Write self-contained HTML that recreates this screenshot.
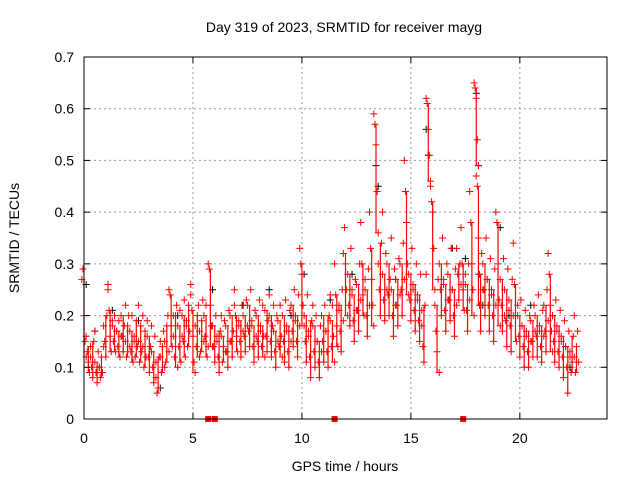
<!DOCTYPE html>
<html><head><meta charset="utf-8"><style>
body{margin:0;background:#fff}
svg text{font-family:"Liberation Sans",sans-serif;font-size:14px;fill:#000}
</style></head><body>
<svg id="c" width="640" height="480">
<text x="344" y="32" text-anchor="middle">Day 319 of 2023, SRMTID for receiver mayg</text>
<text x="345" y="471" text-anchor="middle">GPS time / hours</text>
<text transform="translate(19,238) rotate(-90)" text-anchor="middle">SRMTID / TECUs</text>
<g id="grid"></g>
<g id="black"></g>
<g id="red"></g>
<g id="axes"></g>
</svg>
<script>
const xTicks=[0,5,10,15,20];
const yTicks=[0,0.1,0.2,0.3,0.4,0.5,0.6,0.7];
const yTickLabels=["0","0.1","0.2","0.3","0.4","0.5","0.6","0.7"];
const redTimes=[0,0.2,0.4,0.6,0.8,1,1.2,1.4,1.6,1.8,2,2.2,2.4,2.6,2.8,3,3.2,3.4,3.6,3.8,4,4.2,4.4,4.6,4.8,5,5.2,5.4,5.6,5.8,6,6.2,6.4,6.6,6.8,7,7.2,7.4,7.6,7.8,8,8.2,8.4,8.6,8.8,9,9.2,9.4,9.6,9.8,10,10.2,10.4,10.6,10.8,11,11.2,11.4,11.6,11.8,12,12.2,12.4,12.6,12.8,13,13.2,13.4,13.6,13.8,14,14.2,14.4,14.6,14.8,15,15.2,15.4,15.6,15.8,16,16.2,16.4,16.6,16.8,17,17.2,17.4,17.6,17.8,18,18.1,18.2,18.4,18.6,18.8,19,19.2,19.4,19.6,19.8,20,20.2,20.4,20.6,20.8,21,21.2,21.4,21.6,21.8,22,22.2,22.4,22.6];
const redValues=[[.27,.29,.2,.15,.12],[.16,.13,.11,.09,.14],[.12,.1,.08,.15,.17],[.11,.09,.07,.13,.1],[.1,.08,.12,.09,.14],[.18,.15,.12,.2,.25],[.26,.21,.16,.13,.19],[.18,.15,.2,.13,.17],[.17,.14,.19,.12,.16],[.2,.16,.13,.18,.22],[.15,.12,.18,.2,.14],[.17,.13,.2,.11,.15],[.16,.12,.19,.14,.22],[.15,.11,.18,.13,.2],[.14,.1,.17,.12,.19],[.16,.12,.09,.14,.18],[.13,.1,.07,.16,.11],[.08,.05,.06,.12,.15],[.12,.09,.14,.17,.1],[.15,.11,.18,.2,.13],[.25,.24,.18,.14,.2],[.16,.12,.2,.22,.1],[.18,.14,.21,.11,.16],[.2,.15,.23,.12,.18],[.19,.14,.22,.17,.24],[.26,.21,.16,.11,.09],[.18,.14,.2,.22,.12],[.17,.13,.19,.23,.15],[.2,.16,.22,.12,.14],[.3,.29,.22,.18,.14],[.18,.14,.11,.2,.16],[.15,.12,.09,.17,.2],[.16,.11,.14,.19,.13],[.18,.13,.1,.21,.15],[.2,.15,.12,.17,.22],[.25,.2,.16,.13,.18],[.19,.15,.12,.22,.17],[.2,.16,.13,.23,.18],[.22,.17,.14,.25,.19],[.18,.14,.11,.21,.16],[.2,.15,.12,.23,.17],[.18,.14,.22,.16,.12],[.21,.16,.13,.19,.24],[.2,.15,.12,.18,.22],[.17,.13,.1,.2,.15],[.19,.14,.22,.16,.12],[.2,.15,.11,.23,.17],[.18,.13,.1,.21,.15],[.22,.17,.14,.25,.19],[.2,.15,.12,.24,.18],[.33,.3,.28,.22,.18],[.2,.15,.11,.24,.17],[.16,.12,.08,.19,.22],[.18,.13,.1,.2,.15],[.15,.11,.08,.18,.13],[.2,.15,.11,.22,.17],[.17,.13,.1,.2,.24],[.19,.14,.22,.16,.11],[.3,.24,.18,.14,.21],[.22,.17,.13,.25,.19],[.32,.37,.3,.25,.2],[.28,.22,.18,.33,.25],[.24,.19,.15,.27,.21],[.26,.21,.17,.3,.23],[.38,.3,.24,.2,.27],[.25,.2,.16,.29,.22],[.4,.33,.27,.22,.18],[.59,.57,.53,.44,.36],[.3,.25,.2,.34,.4],[.28,.23,.19,.32,.25],[.3,.24,.2,.27,.35],[.25,.2,.16,.29,.22],[.27,.22,.18,.31,.24],[.3,.25,.2,.34,.27],[.5,.44,.38,.3,.24],[.28,.23,.19,.33,.25],[.26,.21,.17,.3,.23],[.24,.19,.15,.28,.21],[.18,.14,.11,.22,.28],[.62,.61,.56,.51,.46],[.45,.42,.4,.33,.25],[.22,.17,.13,.27,.09],[.3,.25,.2,.35,.27],[.26,.21,.17,.3,.23],[.28,.23,.19,.33,.25],[.25,.2,.16,.29,.22],[.33,.28,.23,.3,.26],[.37,.3,.25,.21,.28],[.26,.21,.17,.3,.23],[.44,.38,.3,.25,.2],[.65,.64,.62,.54,.49],[.47,.45,.35,.28,.22],[.28,.22,.17,.32,.25],[.3,.25,.2,.35,.27],[.27,.22,.17,.31,.24],[.25,.2,.15,.29,.22],[.4,.38,.3,.23,.18],[.27,.22,.17,.31,.2],[.25,.19,.14,.29,.21],[.23,.18,.13,.27,.2],[.34,.26,.2,.15,.22],[.2,.16,.12,.23,.18],[.18,.14,.1,.21,.16],[.17,.13,.1,.2,.15],[.19,.15,.12,.22,.17],[.2,.16,.12,.24,.17],[.18,.14,.11,.21,.16],[.22,.17,.13,.25,.19],[.32,.28,.22,.17,.13],[.2,.15,.11,.23,.17],[.18,.13,.1,.21,.15],[.16,.12,.08,.19,.14],[.14,.1,.05,.17,.12],[.13,.09,.11,.16,.2],[.12,.09,.14,.17,.11]];
const blackTimes=[0.1,0.5,1.3,2.5,3.5,4.3,5.9,7.3,8.5,9.5,10.1,11.3,12.3,13.4,13.5,14.3,15.7,15.8,16.9,17.5,18.0,18.1,18.3,19.1,19.5,20.5,21.5,22.3];
const blackValues=[0.26,0.17,0.21,0.19,0.06,0.2,0.25,0.22,0.25,0.2,0.28,0.23,0.28,0.49,0.45,0.27,0.56,0.51,0.33,0.31,0.63,0.49,0.22,0.37,0.2,0.22,0.2,0.1];
const zeroTimes=[5.7,6.0,11.5,17.4];

const X0=84,X1=607,Y0=419,Y1=57;
const xs=t=>X0+t/24*(X1-X0);
const ys=v=>Y0-v/0.7*(Y0-Y1);
const NS="http://www.w3.org/2000/svg";
function mk(tag,attrs,parent){const e=document.createElementNS(NS,tag);for(const k in attrs)e.setAttribute(k,attrs[k]);parent.appendChild(e);return e;}
const grid=document.getElementById('grid'),axes=document.getElementById('axes');
xTicks.forEach(t=>{
  if(t>0){const l=mk('line',{x1:xs(t),x2:xs(t),y1:Y0,y2:Y1,stroke:'#999','stroke-dasharray':'2,3'},grid);
  
  }
  mk('line',{x1:xs(t),x2:xs(t),y1:Y0,y2:Y0-6,stroke:'#000'},axes);
  mk('line',{x1:xs(t),x2:xs(t),y1:Y1,y2:Y1+6,stroke:'#000'},axes);
  const tx=mk('text',{x:xs(t),y:Y0+24,'text-anchor':'middle'},axes);tx.textContent=t;
  
  
});
yTicks.forEach((v,i)=>{
  if(v>0&&v<0.7){const l=mk('line',{x1:X0,x2:X1,y1:ys(v),y2:ys(v),stroke:'#999','stroke-dasharray':'2,3'},grid);
  
  }
  mk('line',{x1:X0,x2:X0+6,y1:ys(v),y2:ys(v),stroke:'#000'},axes);
  mk('line',{x1:X1,x2:X1-6,y1:ys(v),y2:ys(v),stroke:'#000'},axes);
  const tx=mk('text',{x:X0-10,y:ys(v)+5,'text-anchor':'end'},axes);tx.textContent=yTickLabels[i];
  
  
});
const fr=mk('rect',{x:X0,y:Y1,width:X1-X0,height:Y0-Y1,fill:'none',stroke:'#000'},axes);


function plus(g,x,y,c){mk('path',{d:`M${x-3.5},${y}h7M${x},${y-3.5}v7`,stroke:c,'stroke-width':1,fill:'none'},g);}
const bg=document.getElementById('black'),rg=document.getElementById('red');
blackTimes.forEach((t,i)=>plus(bg,xs(t),ys(blackValues[i]),'#000'));
redTimes.forEach((t,i)=>{
  const vals=redValues[i];
  const sorted=vals.slice().sort((a,b)=>a-b);
  mk('line',{x1:xs(t),x2:xs(t),y1:ys(sorted[0]),y2:ys(sorted[3]),stroke:'#f00','stroke-width':1.2},rg);
  vals.forEach((v,j)=>plus(rg,xs(t+(j-2)*0.05),ys(v),'#f00'));
});
zeroTimes.forEach(t=>{const r=mk('rect',{x:xs(t)-3,y:Y0-3,width:6,height:6,fill:'#f00'},rg);
  
  });
</script>
</body></html>
